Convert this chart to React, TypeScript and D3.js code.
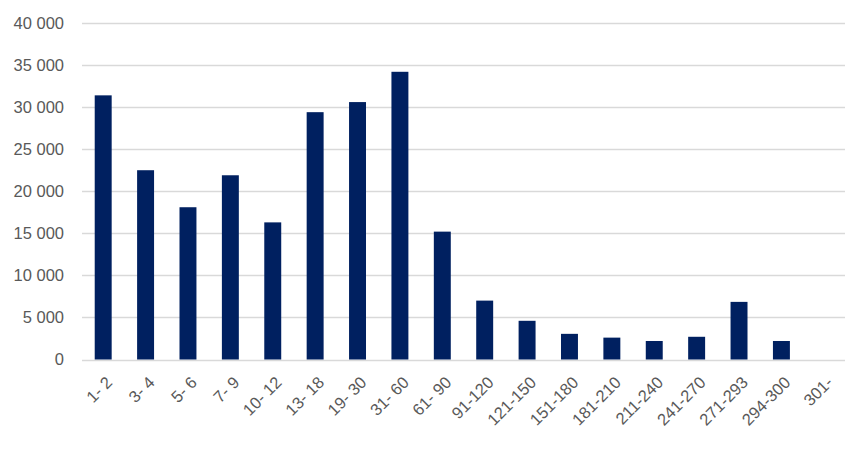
import React, { useEffect, useRef } from "react"
import * as d3 from "d3"

const categories = [
  "1- 2", "3- 4", "5- 6", "7- 9", "10- 12", "13- 18", "19- 30", "31- 60", "61- 90",
  "91-120", "121-150", "151-180", "181-210", "211-240", "241-270", "271-293", "294-300", "301-",
]
const values = [
  31400, 22500, 18100, 21900, 16300, 29400, 30600, 34200, 15200,
  7000, 4600, 3050, 2600, 2200, 2700, 6850, 2200, 0,
]
const yTicks = [0, 5000, 10000, 15000, 20000, 25000, 30000, 35000, 40000]

const width = 868
const height = 449
const margin = { top: 23, right: 23, bottom: 89.5, left: 82 }

const App = () => {
  const ref = useRef<SVGGElement>(null)

  useEffect(() => {
    const g = d3.select(ref.current)
    g.selectAll("*").remove()

    const innerW = width - margin.left - margin.right
    const innerH = height - margin.top - margin.bottom

    const x = d3.scaleBand().domain(categories).range([0, innerW]).paddingInner(0.6).paddingOuter(0.3)
    const y = d3.scaleLinear().domain([0, 40000]).range([innerH, 0])
    const fmt = (v: number) => d3.format(",")(v).replace(/,/g, " ")

    g.selectAll("line.grid")
      .data(yTicks)
      .enter()
      .append("line")
      .attr("class", "grid")
      .attr("x1", 0)
      .attr("x2", innerW)
      .attr("y1", (d) => Math.round(y(d)) + 0.5)
      .attr("y2", (d) => Math.round(y(d)) + 0.5)
      .attr("stroke", "#d9d9d9")
      .attr("stroke-width", 1.3)

    g.selectAll("text.ylab")
      .data(yTicks)
      .enter()
      .append("text")
      .attr("class", "ylab")
      .attr("x", -18)
      .attr("y", (d) => y(d))
      .attr("dy", "0.35em")
      .attr("text-anchor", "end")
      .attr("fill", "#595959")
      .style("font-family", "Liberation Sans, Arial, sans-serif")
      .style("font-size", "16.5px")
      .text(fmt)

    g.selectAll("rect.bar")
      .data(values)
      .enter()
      .append("rect")
      .attr("class", "bar")
      .attr("x", (d, i) => x(categories[i]) as number)
      .attr("width", x.bandwidth())
      .attr("y", (d) => y(d))
      .attr("height", (d) => innerH - y(d))
      .attr("fill", "#002060")

    g.selectAll("text.xlab")
      .data(categories)
      .enter()
      .append("text")
      .attr("class", "xlab")
      .attr(
        "transform",
        (d) => `translate(${(x(d) as number) + x.bandwidth() / 2 + 6},${innerH + 20}) rotate(-45)`
      )
      .attr("text-anchor", "end")
      .attr("dy", "0.35em")
      .attr("fill", "#595959")
      .style("font-family", "Liberation Sans, Arial, sans-serif")
      .style("font-size", "16.5px")
      .text((d) => d)
  }, [])

  return (
    <svg width={width} height={height} style={{ position: "absolute", left: 0, top: 0, background: "#fff" }}>
      <g ref={ref} transform={`translate(${margin.left},${margin.top})`} />
    </svg>
  )
}

export default App
